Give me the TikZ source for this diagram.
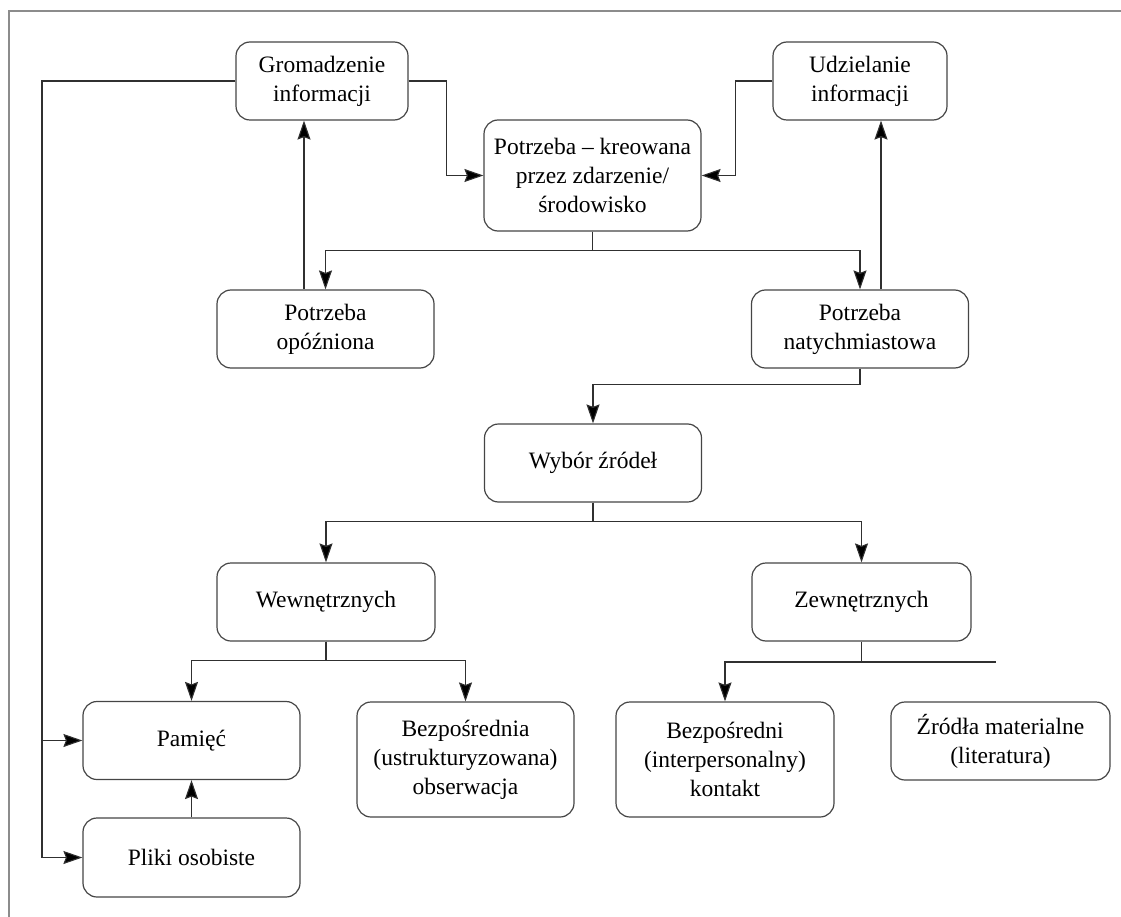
\documentclass[tikz,border=0pt]{standalone}
\usepackage{fontspec}
\setmainfont{Liberation Serif}
\newfontfamily\boxfont{Liberation Serif}
\usetikzlibrary{arrows.meta}
\definecolor{linegray}{HTML}{303030}
\definecolor{boxgray}{HTML}{454545}
\definecolor{framegray}{HTML}{8C8C8C}
\begin{document}
\begin{tikzpicture}[x=1pt,y=-1pt,
  box/.style={draw=boxgray, line width=1.2pt, rounded corners=14pt,
    minimum width=217pt, minimum height=78pt, align=center, inner sep=2pt,
    font=\boxfont\fontsize{23.5}{29}\selectfont},
  conn/.style={draw=linegray, line width=1.1pt},
  arr/.style={conn, -{Stealth[length=19pt,width=13pt,inset=2.5pt,fill=black]}},
]
\useasboundingbox (0,0) rectangle (1121,917);

% open frame: top and left edges only
\coordinate (fbl) at (9,917);
\coordinate (ftl) at (9,11);
\coordinate (ftr) at (1121,11);
\draw[framegray, line width=1.5pt] (fbl) -- (ftl) -- (ftr);

% boxes
\node[box, minimum width=172pt] (grom) at (322,81) {Gromadzenie\\informacji};
\node[box, minimum width=174pt] (udz) at (860,81) {Udzielanie\\informacji};
\node[box, minimum height=111pt] (kreo) at (592.5,175.5) {Potrzeba – kreowana\\przez zdarzenie/\\środowisko};
\node[box] (opoz) at (325.5,329) {Potrzeba\\opóźniona};
\node[box] (nat) at (860,329) {Potrzeba\\natychmiastowa};
\node[box] (wyb) at (593,463) {Wybór źródeł};
\node[box, minimum width=218pt] (wew) at (326,602) {Wewnętrznych};
\node[box, minimum width=219pt] (zew) at (861.5,602) {Zewnętrznych};
\node[box] (pam) at (191.5,740.5) {Pamięć};
\node[box, minimum height=79pt] (pliki) at (191.5,857.5) {Pliki osobiste};
\node[box, minimum height=115pt] (obs) at (465.5,759.5) {Bezpośrednia\\(ustrukturyzowana)\\obserwacja};
\node[box, minimum height=115pt, minimum width=218pt] (kont) at (725,759.5) {Bezpośredni\\(interpersonalny)\\kontakt};
\node[box, minimum width=219pt] (zrod) at (1000.5,741) {Źródła materialne\\(literatura)};

% connectors
\coordinate (lbus) at (42,0);
\draw[arr] (grom.west) -| (lbus |- pliki.west) -- (pliki.west);
\draw[arr] (lbus |- pam.west) -- (pam.west);

\draw[arr] (grom.east) -- ++(38,0) |- (kreo.west);
\draw[arr] (udz.west) -- ++(-37,0) |- (kreo.east);

\draw[arr] (kreo.south) -- ++(0,19) -| (opoz.north);
\draw[arr] (kreo.south) -- ++(0,19) -| (nat.north);

\draw[arr] ([xshift=-21.5pt]opoz.north) -- ([xshift=-21.5pt]opoz.north |- grom.south);
\draw[arr] ([xshift=21pt]nat.north) -- ([xshift=21pt]nat.north |- udz.south);

\draw[arr] (nat.south) -- ++(0,16) -| (wyb.north);

\draw[arr] (wyb.south) -- ++(0,19) -| (wew.north);
\draw[arr] (wyb.south) -- ++(0,19) -| (zew.north);

\draw[arr] (wew.south) -- ++(0,19) -| (pam.north);
\draw[arr] (wew.south) -- ++(0,19) -| (obs.north);

% the external branch: one arrow left, an open line to the right
\coordinate (zend) at (996,662);
\draw[arr] (zew.south) -- (zew.south |- zend) -| (kont.north);
\draw[conn] (zew.south |- zend) -- (zend);

\draw[arr] (pliki.north) -- (pam.south);
\end{tikzpicture}
\end{document}
